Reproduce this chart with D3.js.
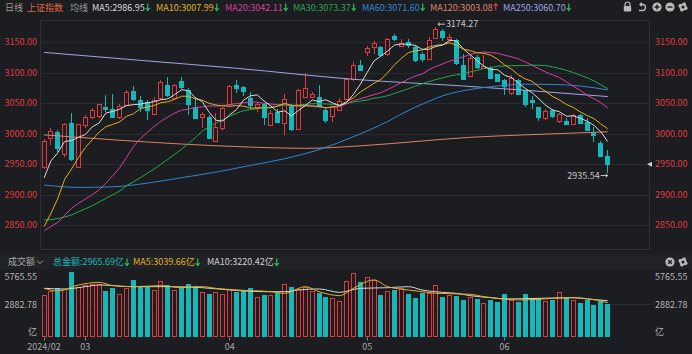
<!DOCTYPE html>
<html>
<head>
<meta charset="utf-8">
<script src="https://cdn.jsdelivr.net/npm/d3@7/dist/d3.min.js"></script>
<style>
  html, body { margin: 0; padding: 0; background: #1c1d21; }
  #chart svg { display: block; }
</style>
</head>
<body>
<div id="chart"></div>
<script>
// 上证指数 daily, 2024-02-22 .. 2024-06-25
const dates = [
  "02-22","02-23","02-26","02-27","02-28","02-29",
  "03-01","03-04","03-05","03-06","03-07","03-08","03-11","03-12","03-13","03-14","03-15",
  "03-18","03-19","03-20","03-21","03-22","03-25","03-26","03-27","03-28","03-29",
  "04-01","04-02","04-03","04-08","04-09","04-10","04-11","04-12","04-15","04-16","04-17",
  "04-18","04-19","04-22","04-23","04-24","04-25","04-26","04-29","04-30",
  "05-06","05-07","05-08","05-09","05-10","05-13","05-14","05-15","05-16","05-17","05-20",
  "05-21","05-22","05-23","05-24","05-27","05-28","05-29","05-30","05-31",
  "06-03","06-04","06-05","06-06","06-07","06-11","06-12","06-13","06-14","06-17","06-18",
  "06-19","06-20","06-21","06-24","06-25"
];

const open = [
  2945,2993,3003,2966,3017,2946,3014,3028,3029,3044,
  3040,3028,3047,3069,3055,3051,3032,3059,3080,3058,
  3086,3071,3043,3028,3028,2988,3009,3049,3079,3076,
  3058,3044,3048,3014,3036,3017,3045,3008,3060,3060,
  3060,3039,3029,3039,3056,3089,3112,3134,3141,3142,
  3130,3160,3143,3150,3142,3130,3122,3157,3168,3155,
  3153,3112,3094,3126,3108,3107,3097,3088,3066,3088,
  3071,3055,3043,3025,3039,3021,3020,3015,3030,3019,
  3001,2984,2964
];
const high = [
  2991,3010,3006,3018,3033,3016,3031,3042,3049,3063,
  3065,3049,3071,3078,3062,3055,3060,3087,3092,3082,
  3093,3074,3060,3036,3030,3033,3043,3080,3088,3078,
  3068,3051,3050,3038,3040,3065,3048,3073,3100,3068,
  3080,3042,3046,3058,3091,3118,3120,3144,3152,3144,
  3157,3163,3155,3155,3145,3133,3158,3174.27,3172,3163,
  3155,3131,3128,3129,3129,3110,3098,3089,3096,3090,
  3072,3062,3044,3040,3041,3034,3025,3032,3032,3025,
  3011,2988,2973
];
const low = [
  2942,2981,2970,2962,2956,2944,3010,3024,3026,3036,
  3026,3024,3045,3053,3035,3022,3030,3057,3060,3056,
  3073,3030,3024,3009,2992,2986,3005,3046,3066,3062,
  3041,3036,3014,3012,3017,2998,3005,3006,3059,3058,
  3043,3018,3019,3037,3055,3086,3102,3127,3131,3126,
  3127,3152,3141,3140,3118,3118,3120,3155,3152,3149,
  3113,3087,3093,3106,3105,3089,3085,3063,3064,3064,
  3044,3040,3020,3023,3026,3017,3014,3014,3017,3004,
  2987,2961,2935.54
];
const close = [
  2988.36,3004.88,2977.02,3015.48,2957.85,3015.17,3027.02,3039.31,3047.79,3039.93,
  3027.40,3046.02,3068.46,3055.94,3043.83,3038.23,3054.64,3084.93,3062.76,3079.69,
  3077.11,3048.03,3026.31,3031.48,2993.14,3010.66,3041.17,3077.38,3074.96,3069.30,
  3047.05,3048.54,3027.34,3034.25,3019.47,3057.38,3007.07,3071.38,3074.22,3065.26,
  3044.60,3021.98,3044.82,3052.90,3088.64,3113.04,3104.82,3140.72,3147.74,3128.48,
  3154.32,3154.55,3148.02,3145.77,3119.90,3122.40,3154.03,3171.15,3157.97,3158.54,
  3116.39,3088.87,3124.04,3109.57,3111.02,3091.68,3086.81,3078.49,3091.19,3065.40,
  3048.44,3051.28,3028.05,3037.47,3028.92,3032.63,3015.89,3030.25,3018.05,3005.44,
  2998.14,2963.10,2950.00
];

// turnover, 亿
const volume = [
  3718,4070,4360,4219,5765.55,4450,4597,4685,4655,4070,
  4360,3780,4360,5037,4450,4390,4160,4950,4597,4160,
  4450,4655,4540,4010,3835,4010,3780,4245,4010,4070,
  4305,3515,3718,3718,3865,4685,4450,4245,4450,4070,
  3865,3540,3425,3220,4950,5625,4835,5274,5037,3718,
  4070,4160,4305,3780,3425,3865,3865,4570,3570,3718,
  3660,3280,3570,3340,3040,3280,3075,3780,3280,3075,
  3780,3365,3425,3190,3280,4010,3425,3250,3020,3260,
  2880,3160,2965.69
];

const ma5 = [
  2927.70,2955.49,2968.79,2987.34,2988.72,2994.08,2998.51,3010.97,3017.43,3033.84,
  3036.29,3040.09,3045.92,3047.55,3048.33,3050.50,3052.22,3055.51,3056.88,3064.05,
  3071.83,3070.50,3058.78,3052.52,3035.21,3021.92,3020.55,3030.77,3039.46,3054.69,
  3061.97,3063.45,3053.44,3045.30,3035.33,3037.40,3029.10,3037.91,3045.90,3055.06,
  3052.51,3055.49,3050.18,3045.91,3050.59,3064.28,3080.84,3100.02,3118.99,3126.96,
  3135.22,3145.16,3146.62,3146.23,3144.51,3138.13,3138.02,3142.65,3145.09,3152.82,
  3151.62,3138.58,3129.16,3119.48,3109.98,3105.04,3104.62,3095.51,3091.84,3082.71,
  3074.07,3066.96,3056.87,3046.13,3038.83,3035.67,3028.59,3029.03,3025.15,3020.45,
  3013.55,3003.00,2986.95
];
const ma10 = [
  2847.86,2869.49,2894.18,2925.51,2942.34,2960.89,2977.00,2989.88,3002.38,3011.28,
  3015.19,3019.30,3028.44,3032.49,3041.09,3043.39,3046.16,3050.72,3052.21,3056.19,
  3061.16,3061.36,3057.15,3054.70,3049.63,3046.88,3045.53,3044.77,3045.99,3044.95,
  3041.95,3042.00,3042.10,3042.38,3045.01,3049.68,3046.27,3045.67,3045.60,3045.20,
  3044.95,3042.30,3044.04,3045.91,3052.83,3058.39,3068.17,3075.10,3082.45,3088.77,
  3099.75,3113.00,3123.32,3132.61,3135.74,3136.67,3141.59,3144.64,3145.66,3148.67,
  3144.87,3138.30,3135.91,3132.29,3131.40,3128.33,3121.60,3112.34,3105.66,3096.35,
  3089.55,3085.79,3076.19,3068.98,3060.77,3054.87,3047.78,3042.95,3035.64,3029.64,
  3024.61,3015.79,3007.99
];
const ma20 = [
  2841,2848,2855,2866,2878,2886,2893,2900,2908,2919,
  2931.5,2944.4,2961.3,2979.0,2991.7,3002.1,3011.6,3020.3,3027.3,3033.7,
  3038.2,3040.3,3042.8,3043.6,3045.4,3045.1,3045.8,3047.7,3049.1,3050.6,
  3051.6,3051.7,3049.6,3048.5,3047.3,3048.3,3045.9,3045.2,3045.8,3045.1,
  3043.5,3042.2,3043.1,3044.1,3048.9,3054.0,3057.2,3060.4,3064.0,3067.0,
  3072.4,3077.7,3083.7,3089.3,3094.3,3097.5,3104.9,3109.9,3114.1,3118.7,
  3122.3,3125.7,3129.6,3132.5,3133.6,3132.5,3131.6,3128.5,3125.7,3122.5,
  3117.2,3112.0,3106.1,3100.6,3096.1,3091.6,3084.7,3077.6,3070.7,3063.0,
  3057.1,3050.8,3042.1
];
const ma30 = [
  2858.7,2859.5,2861,2863.5,2867,2872,2877,2882,2888,2894,
  2900,2906,2915,2921,2928,2935,2942,2950,2958,2966,
  2974.7,2983.4,2993.3,3004.2,3011.0,3017.1,3022.9,3028.5,3033.5,3037.5,
  3039.4,3040.9,3042.6,3043.2,3045.2,3046.7,3046.0,3047.1,3047.9,3048.8,
  3049.4,3048.6,3047.8,3047.7,3049.2,3051.7,3053.3,3055.2,3058.0,3059.6,
  3062.2,3065.8,3069.8,3073.6,3077.9,3081.6,3085.3,3088.5,3091.2,3094.2,
  3096.5,3097.9,3101.1,3103.6,3106.7,3107.8,3110.5,3110.7,3111.3,3111.3,
  3111.4,3112.4,3111.8,3111.3,3109.3,3106.6,3103.7,3100.0,3095.7,3091.6,
  3086.3,3080.0,3073.4
];
// slow averages, read at [candle index, value]
const ma60 = [[0,2916],[5,2912],[10,2913],[15,2919],[20,2928],[25,2937],[30,2948],[35,2959],
  [40,2974],[45,2995],[50,3020],[53,3038],[56,3053],[58,3062],[60,3068],[63,3074],[66,3078],
  [70,3081],[74,3080.5],[78,3078],[82,3071.6]];
const ma120 = [[0,2998],[10,2990],[20,2983],[30,2978],[38,2976],[46,2980],[55,2988],[62,2994],
  [70,2998],[82,3003.08]];
const ma250 = [[0,3133],[14,3120],[28,3107],[45,3089],[61,3078],[70,3071],[82,3060.7]];

const volMa5 = [[0,4305],[2,4070],[5,4597],[8,4830],[10,4540],[13,4450],[17,4540],[20,4360],
  [23,4450],[25,4305],[28,4160],[33,4010],[35,3865],[38,4450],[40,4010],[43,3660],[45,4305],
  [48,5037],[50,4450],[53,4160],[55,4010],[57,3865],[62,3780],[64,3570],[67,3370],[69,3280],
  [72,3340],[74,3425],[77,3480],[79,3400],[82,3039.66]];
const volMa10 = [[0,4305],[3,4245],[6,4450],[8,4597],[13,4450],[18,4450],[23,4360],[27,4160],
  [32,4010],[35,4010],[37,4160],[40,4250],[43,3950],[46,4305],[50,4360],[53,4450],[55,4160],
  [58,3950],[60,3865],[62,3660],[65,3480],[67,3370],[72,3425],[77,3480],[79,3370],[82,3220.42]];

const maNames = ["MA5", "MA10", "MA20", "MA30", "MA60", "MA120", "MA250"];
const maLast = ["2986.95", "3007.99", "3042.11", "3073.37", "3071.60", "3003.08", "3060.70"];
const maUp = [false, false, false, false, false, true, false];

const priceTicks = [2850, 2900, 2950, 3000, 3050, 3100, 3150];
const volTicks = [5765.55, 2882.78];
const monthTickDates = ["02-22", "03-01", "04-01", "05-06", "06-03"];
const monthTickLabels = ["2024/02", "03", "04", "05", "06"];

const volTotal = "2965.69";
const volMa5Last = "3039.66";
const volMa10Last = "3220.42";

function renderChart() {
  const W = 692, H = 354;
  const BG = "#1c1d21", GRID = "#2a2b30", BORDER = "#2f3035";
  const RED = "#e0393e", CYAN = "#17b6b9", GREEN = "#1fc15b";
  const FONT = '"Noto Sans CJK SC", "Noto Sans", sans-serif';
  const maColors = ["#d9d9d9", "#e3b01e", "#d6409f", "#22a94b", "#2f86d6", "#df8262", "#a0a4e8"];

  const panel = { left: 40, right: 650, top: 20, bottom: 249 };

  const svg = d3.select("#chart").append("svg")
    .attr("width", W).attr("height", H)
    .style("font-family", FONT);

  svg.append("rect").attr("width", W).attr("height", H).attr("fill", BG);

  const x = d3.scaleBand().domain(dates).range([39.55, 612.25]).padding(0.32);
  const cx = i => x(dates[i]) + x.bandwidth() / 2;
  const bx = i => Math.round(cx(i) - 2.5);
  const y = d3.scaleLinear().domain([2850, 3150]).range([225.3, 42]);
  const yv = d3.scaleLinear().domain([0, 5765.55]).range([337.3, 271.7]);

  // ---------- price panel ----------
  svg.append("g").selectAll("line").data(priceTicks).join("line")
    .attr("x1", panel.left).attr("x2", panel.right)
    .attr("y1", d => Math.round(y(d)) + 0.5).attr("y2", d => Math.round(y(d)) + 0.5)
    .attr("stroke", GRID);

  svg.append("rect")
    .attr("x", panel.left + 0.5).attr("y", panel.top + 0.5)
    .attr("width", panel.right - panel.left - 1).attr("height", panel.bottom - panel.top)
    .attr("fill", "none").attr("stroke", BORDER);

  svg.append("g").selectAll("text").data(priceTicks).join("text")
    .attr("x", 37).attr("y", d => y(d)).attr("dy", "0.35em")
    .attr("text-anchor", "end").attr("font-size", 9).attr("fill", RED)
    .text(d => d3.format(".2f")(d));
  svg.append("g").selectAll("text").data(priceTicks).join("text")
    .attr("x", 655).attr("y", d => y(d)).attr("dy", "0.35em")
    .attr("font-size", 9).attr("fill", RED)
    .text(d => d3.format(".2f")(d));

  svg.append("clipPath").attr("id", "pclip").append("rect")
    .attr("x", panel.left).attr("y", panel.top).attr("width", panel.right - panel.left)
    .attr("height", panel.bottom - panel.top);

  const candles = svg.append("g").attr("shape-rendering", "crispEdges");
  d3.range(dates.length).forEach(i => {
    const up = close[i] >= open[i];
    const col = up ? RED : CYAN;
    candles.append("line")
      .attr("x1", bx(i) + 2.5).attr("x2", bx(i) + 2.5)
      .attr("y1", y(high[i])).attr("y2", y(low[i]))
      .attr("stroke", col);
    const top = Math.round(y(Math.max(open[i], close[i])));
    const bot = Math.round(y(Math.min(open[i], close[i])));
    candles.append("rect")
      .attr("x", bx(i) + 0.5).attr("y", top + 0.5)
      .attr("width", 4).attr("height", Math.max(bot - top, 1))
      .attr("fill", up ? BG : CYAN).attr("stroke", col);
  });

  const lines = svg.append("g").attr("clip-path", "url(#pclip)").attr("fill", "none");
  const dense = d3.line().x((d, i) => cx(i)).y(d => y(d));
  const smooth = d3.line().x(d => cx(d[0])).y(d => y(d[1])).curve(d3.curveMonotoneX);
  lines.append("path").attr("d", smooth(ma250)).attr("stroke", maColors[6]);
  lines.append("path").attr("d", smooth(ma120)).attr("stroke", maColors[5]);
  lines.append("path").attr("d", smooth(ma60)).attr("stroke", maColors[4]);
  lines.append("path").attr("d", dense(ma30)).attr("stroke", maColors[3]);
  lines.append("path").attr("d", dense(ma20)).attr("stroke", maColors[2]);
  lines.append("path").attr("d", dense(ma10)).attr("stroke", maColors[1]);
  lines.append("path").attr("d", dense(ma5)).attr("stroke", maColors[0]);

  // high / low markers
  const hiIdx = d3.maxIndex(high), loIdx = d3.minIndex(low);
  const hiY = y(high[hiIdx]) - 3;
  svg.append("path")
    .attr("d", `M${cx(hiIdx) + 2},${hiY}H${cx(hiIdx) + 9}M${cx(hiIdx) + 4},${hiY - 1.5}L${cx(hiIdx) + 2},${hiY}L${cx(hiIdx) + 4},${hiY + 1.5}`)
    .attr("stroke", "#c8c8c8").attr("fill", "none");
  svg.append("text")
    .attr("x", cx(hiIdx) + 10).attr("y", hiY).attr("dy", "0.35em")
    .attr("font-size", 9).attr("fill", "#c8c8c8")
    .text(d3.format(".2f")(high[hiIdx]));
  const loY = y(low[loIdx]) + 2.5;
  svg.append("path")
    .attr("d", `M${cx(loIdx) - 7},${loY}H${cx(loIdx)}M${cx(loIdx) - 2},${loY - 1.5}L${cx(loIdx)},${loY}L${cx(loIdx) - 2},${loY + 1.5}`)
    .attr("stroke", "#c8c8c8").attr("fill", "none");
  svg.append("text")
    .attr("x", cx(loIdx) - 8).attr("y", loY).attr("dy", "0.35em")
    .attr("text-anchor", "end").attr("font-size", 9).attr("fill", "#c8c8c8")
    .text(d3.format(".2f")(low[loIdx]));

  // last price pointer on the right edge
  const lastY = y(close[close.length - 1]);
  svg.append("path")
    .attr("d", `M${panel.right - 3},${lastY}L${panel.right + 2},${lastY - 2.5}L${panel.right + 2},${lastY + 2.5}Z`)
    .attr("fill", "#cfcfcf");

  // ---------- header ----------
  const head = svg.append("g").attr("font-size", 9);
  head.append("text").attr("x", 5).attr("y", 10.5).attr("fill", "#a59a8c").text("日线");
  head.append("text").attr("x", 27).attr("y", 10.5).attr("fill", "#e2683f").text("上证指数");
  head.append("text").attr("x", 70).attr("y", 10.5).attr("fill", "#9a9a9a").text("均线");

  const arrow = (g, ax, ay, up, color) => {
    const d = up
      ? `M${ax},${ay + 3.5}V${ay - 3}M${ax - 2},${ay - 1}L${ax},${ay - 3.5}L${ax + 2},${ay - 1}`
      : `M${ax},${ay - 3.5}V${ay + 3}M${ax - 2},${ay + 1}L${ax},${ay + 3.5}L${ax + 2},${ay + 1}`;
    g.append("path").attr("d", d).attr("stroke", color).attr("stroke-width", 1.2).attr("fill", "none");
  };

  const maX = [92, 156, 225, 293, 362, 430, 503];
  maNames.forEach((name, k) => {
    const t = head.append("text").attr("x", maX[k]).attr("y", 10.5)
      .attr("fill", maColors[k]).text(`${name}:${maLast[k]}`);
    const end = maX[k] + t.node().getComputedTextLength();
    arrow(head, end + 3, 7, maUp[k], maUp[k] ? RED : GREEN);
  });

  // toolbar icons
  const ICON = "#b9b9b9";
  const icons = svg.append("g");
  icons.append("path").attr("d", "M625,6V4.5a2.5,2.5 0 0 1 5,0V6").attr("stroke", ICON).attr("stroke-width", 1.2).attr("fill", "none");
  icons.append("rect").attr("x", 623.8).attr("y", 6).attr("width", 7.4).attr("height", 5.5).attr("rx", 0.8).attr("fill", ICON);
  icons.append("path").attr("d", "M640,4.5h2.5a3,3 0 0 1 0,6h-3.5M641.8,2.8L640,4.5L641.8,6.2")
    .attr("stroke", ICON).attr("stroke-width", 1.3).attr("fill", "none");

  const roundIcon = (g, ix, iy, kind) => {
    g.append("circle").attr("cx", ix).attr("cy", iy).attr("r", 4.6).attr("fill", ICON);
    let d = "";
    if (kind === "plus") d = `M${ix - 2.5},${iy}H${ix + 2.5}M${ix},${iy - 2.5}V${iy + 2.5}`;
    if (kind === "minus") d = `M${ix - 2.5},${iy}H${ix + 2.5}`;
    if (kind === "close") d = `M${ix - 1.8},${iy - 1.8}L${ix + 1.8},${iy + 1.8}M${ix + 1.8},${iy - 1.8}L${ix - 1.8},${iy + 1.8}`;
    g.append("path").attr("d", d).attr("stroke", BG).attr("stroke-width", 1.4);
  };
  const gear = (g, gx, gy) => {
    const pts = d3.range(16).map(k => {
      const a = k * Math.PI / 8;
      const r = (Math.floor(k / 2) % 2 === 0) ? 4.8 : 3.6;
      return [gx + r * Math.cos(a + Math.PI / 16), gy + r * Math.sin(a + Math.PI / 16)];
    });
    g.append("path").attr("d", "M" + pts.join("L") + "Z").attr("fill", ICON);
    g.append("circle").attr("cx", gx).attr("cy", gy).attr("r", 1.5).attr("fill", BG);
  };
  roundIcon(icons, 657, 7, "plus");
  roundIcon(icons, 670, 7, "minus");
  gear(icons, 683, 7);

  // ---------- volume panel ----------
  svg.append("rect").attr("x", 0).attr("y", 254).attr("width", W).attr("height", 15).attr("fill", "#212226");

  const vhead = svg.append("g").attr("font-size", 9);
  vhead.append("text").attr("x", 8).attr("y", 265).attr("fill", "#a8a8a8").text("成交额");
  vhead.append("path").attr("d", "M37,260.5L40,263.5L43,260.5").attr("stroke", "#a8a8a8").attr("fill", "none");
  const vItems = [
    { x: 53, text: `总金额:${volTotal}亿`, color: CYAN },
    { x: 133, text: `MA5:${volMa5Last}亿`, color: maColors[1] },
    { x: 207, text: `MA10:${volMa10Last}亿`, color: "#d0d0d0" }
  ];
  vItems.forEach(it => {
    const t = vhead.append("text").attr("x", it.x).attr("y", 265).attr("fill", it.color).text(it.text);
    arrow(vhead, it.x + t.node().getComputedTextLength() + 3, 262, false, GREEN);
  });
  roundIcon(vhead, 670, 262, "close");
  gear(vhead, 683, 262);

  svg.append("line")
    .attr("x1", panel.left).attr("x2", panel.right)
    .attr("y1", Math.round(yv(2882.78)) + 0.5).attr("y2", Math.round(yv(2882.78)) + 0.5)
    .attr("stroke", GRID);

  const vLabels = svg.append("g").attr("font-size", 9).attr("fill", "#b4b4b4");
  const vLabelY = [277, 305, 332];
  const vLabelText = volTicks.map(d => d3.format(".2f")(d)).concat(["亿"]);
  vLabelText.forEach((t, k) => {
    vLabels.append("text").attr("x", 37).attr("y", vLabelY[k]).attr("dy", "0.35em")
      .attr("text-anchor", "end").text(t);
    vLabels.append("text").attr("x", 655).attr("y", vLabelY[k]).attr("dy", "0.35em").text(t);
  });

  const bars = svg.append("g").attr("shape-rendering", "crispEdges");
  volume.forEach((v, i) => {
    const up = close[i] >= open[i];
    const top = Math.round(yv(v));
    bars.append("rect")
      .attr("x", bx(i) + 0.5).attr("y", top + 0.5)
      .attr("width", 4).attr("height", Math.round(yv(0)) - top - 1)
      .attr("fill", up ? BG : CYAN).attr("stroke", up ? RED : CYAN);
  });

  const vline = d3.line().x(d => cx(d[0])).y(d => yv(d[1])).curve(d3.curveMonotoneX);
  svg.append("path").attr("d", vline(volMa10)).attr("stroke", "#d6d6d6").attr("fill", "none");
  svg.append("path").attr("d", vline(volMa5)).attr("stroke", maColors[1]).attr("fill", "none");

  // ---------- date axis ----------
  const axisY = Math.round(yv(0)) + 0.5;
  svg.append("g").selectAll("line").data(monthTickDates).join("line")
    .attr("x1", d => bx(dates.indexOf(d)) + 2.5).attr("x2", d => bx(dates.indexOf(d)) + 2.5)
    .attr("y1", axisY).attr("y2", axisY + 3)
    .attr("stroke", "#8a8a8a");
  svg.append("g").selectAll("text").data(monthTickDates).join("text")
    .attr("x", d => cx(dates.indexOf(d))).attr("y", 349.5)
    .attr("text-anchor", "middle").attr("font-size", 9).attr("fill", "#a6a6a6")
    .text((d, k) => monthTickLabels[k]);
}

renderChart();
</script>
</body>
</html>
